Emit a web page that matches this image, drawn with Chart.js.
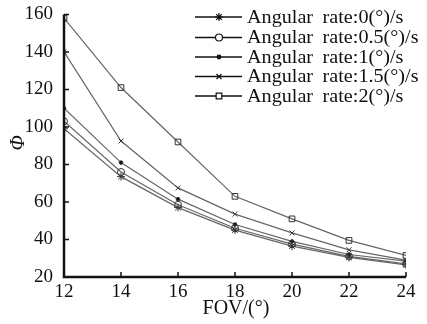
<!DOCTYPE html>
<html><head><meta charset="utf-8">
<script src="https://cdn.jsdelivr.net/npm/chart.js@4"></script>
<style>html,body{margin:0;padding:0;background:#fff}#c{display:block}</style>
</head><body>
<canvas id="c" width="427" height="324"></canvas>
<script>
const fov = [12, 14, 16, 18, 20, 22, 24];
const labels = ['Angular rate:0(°)/s','Angular rate:0.5(°)/s','Angular rate:1(°)/s','Angular rate:1.5(°)/s','Angular rate:2(°)/s'];
const rate0   = [99, 73.5, 57, 45, 36.5, 30.5, 26.5];
const rate05  = [103, 76, 58.5, 46, 37.5, 31, 27];
const rate1   = [110, 81, 61.5, 48, 39, 32, 28.5];
const rate15  = [140, 92.5, 67.5, 53.5, 43.5, 34.5, 29];
const rate2   = [158, 121, 92, 63, 51, 39.5, 31.5];
const yTicks = [20, 40, 60, 80, 100, 120, 140, 160];
const xTicks = [12, 14, 16, 18, 20, 22, 24];

const styles = [
  {ps:'star', r:4, fill:false},
  {ps:'circle', r:3.5, fill:false},
  {ps:'circle', r:1.8, fill:true},
  {ps:'crossRot', r:3.5, fill:false},
  {ps:'rect', r:4, fill:false}
];
const series = [rate0, rate05, rate1, rate15, rate2];
const lineCol = '#666';
const datasets = series.map((s,i)=>({
  label: labels[i],
  data: s.map((v,j)=>({x:fov[j], y:v})),
  borderColor: lineCol, borderWidth: 1.2,
  pointStyle: styles[i].ps, pointRadius: styles[i].r,
  pointBorderColor: '#333', pointBorderWidth: 1,
  pointBackgroundColor: styles[i].fill ? '#111' : 'rgba(255,255,255,0)',
  tension: 0, fill:false
}));

const FONT = '"Liberation Serif","Times New Roman",serif';

const deco = {
  id:'deco',
  afterDraw(chart){
    const ctx = chart.ctx, a = chart.chartArea;
    const xs = chart.scales.x, ys = chart.scales.y;
    ctx.save();
    ctx.strokeStyle = '#111'; ctx.lineWidth = 2.5;
    ctx.beginPath();
    ctx.moveTo(a.left, a.top); ctx.lineTo(a.left, a.bottom); ctx.lineTo(a.right, a.bottom);
    ctx.stroke();
    ctx.lineWidth = 1.5;
    ctx.beginPath();
    xTicks.forEach(t=>{const px=xs.getPixelForValue(t); ctx.moveTo(px,a.bottom); ctx.lineTo(px,a.bottom-5);});
    yTicks.forEach(t=>{const py=ys.getPixelForValue(t); ctx.moveTo(a.left,py); ctx.lineTo(a.left+5,py);});
    ctx.stroke();
    // legend
    const rows = [17, 37.5, 57, 76.5, 96];
    labels.forEach((lab,i)=>{
      const y = rows[i];
      ctx.strokeStyle='#111'; ctx.lineWidth=1.5;
      ctx.beginPath(); ctx.moveTo(195,y); ctx.lineTo(242,y); ctx.stroke();
      ctx.fillStyle = styles[i].fill ? '#111' : '#fff';
      ctx.lineWidth=1.2;
      Chart.helpers.drawPoint(ctx, {pointStyle: styles[i].ps, radius: styles[i].r, borderWidth:1.2}, 219, y);
      ctx.fillStyle='#111';
      ctx.save();
      ctx.translate(247, y+1); ctx.scale(1.12, 1);
      ctx.font = '18px ' + FONT; ctx.textBaseline='middle'; ctx.textAlign='left';
      try { ctx.wordSpacing = '4px'; } catch(e) {}
      ctx.fillText(lab, 0, 0);
      ctx.restore();
    });
    // axis titles
    ctx.fillStyle='#111';
    ctx.font = 'italic 20px ' + FONT; ctx.textBaseline='middle';
    ctx.save(); ctx.translate(19, 143); ctx.rotate(-Math.PI/2);
    ctx.textAlign='center'; ctx.fillText('Φ', 0, 0); ctx.restore();
    ctx.font = '20px ' + FONT; ctx.textAlign='center';
    ctx.fillText('FOV/(°)', 236, 309);
    ctx.restore();
  }
};

new Chart(document.getElementById('c'), {
  type:'line',
  data:{datasets},
  options:{
    responsive:false, animation:false,
    layout:{padding:{top:13, right:21, left:0, bottom:0}},
    plugins:{legend:{display:false}, tooltip:{enabled:false}},
    scales:{
      x:{type:'linear', min:12, max:24,
        afterBuildTicks(s){ s.ticks = xTicks.map(v=>({value:v})); },
        afterFit(s){ s.height = 47; },
        grid:{display:false}, border:{display:false},
        ticks:{color:'#111', font:{family:FONT, size:19}, padding:-4, maxRotation:0}
      },
      y:{min:20, max:160,
        afterBuildTicks(s){ s.ticks = yTicks.map(v=>({value:v})); },
        afterFit(s){ s.width = 64; },
        grid:{display:false}, border:{display:false},
        ticks:{color:'#111', font:{family:FONT, size:19}, padding:3}
      }
    }
  },
  plugins:[deco]
});
</script>
</body></html>
